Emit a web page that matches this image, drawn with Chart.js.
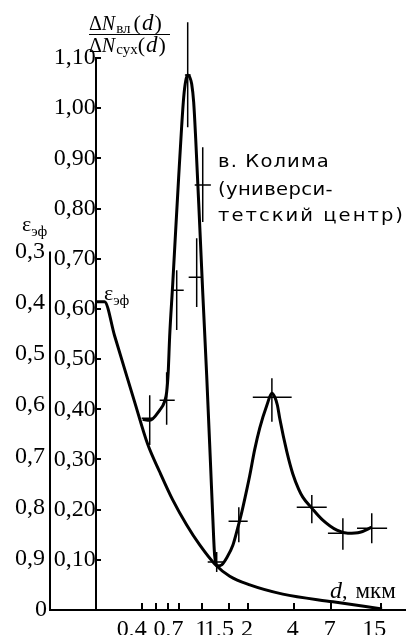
<!DOCTYPE html>
<html>
<head>
<meta charset="utf-8">
<script src="https://cdn.jsdelivr.net/npm/chart.js@4.4.1/dist/chart.umd.min.js"></script>
<style>
  html, body { margin: 0; padding: 0; background: #fff; }
  canvas { display: block; }
</style>
</head>
<body>
<canvas id="chart" width="408" height="635"></canvas>
<script>
(function () {
    'use strict';

    // ── Data ─────────────────────────────────────────────────────
    // x axis: particle size d, mkm (log scale)
    const X_TICKS      = [0.4, 0.5, 0.6, 0.7, 1, 1.5, 2, 4, 7, 15];
    const X_UNLABELLED = [0.5, 0.6];
    const DN_TICKS     = [0, 0.1, 0.2, 0.3, 0.4, 0.5, 0.6, 0.7, 0.8, 0.9, 1.0, 1.1];
    const EPS_TICKS    = [0.3, 0.4, 0.5, 0.6, 0.7, 0.8, 0.9];

    // ΔN_wet / ΔN_dry curve
    const DN_D = [0.406, 0.452, 0.525, 0.567, 0.584, 0.598, 0.611, 0.640, 0.669, 0.700, 0.733, 0.756,
                  0.779, 0.803, 0.828, 0.853, 0.879, 0.906, 0.963, 1.008, 1.070, 1.137, 1.172, 1.208,
                  1.265, 1.344, 1.45, 1.59, 1.71, 1.82, 1.96, 2.05, 2.21, 2.39, 2.66, 2.87, 3.0, 3.12,
                  3.23, 3.60, 3.94, 4.3, 4.58, 5.25, 6.2, 7.67, 9.06, 10.9, 13.0];
    const DN_V = [0.380, 0.378, 0.398, 0.416, 0.434, 0.474, 0.544, 0.649, 0.755, 0.861, 0.964, 1.022,
                  1.054, 1.066, 1.062, 1.048, 1.012, 0.940, 0.767, 0.633, 0.468, 0.283, 0.189, 0.108,
                  0.088, 0.090, 0.104, 0.129, 0.163, 0.195, 0.239, 0.267, 0.319, 0.363, 0.408, 0.432, 0.424, 0.408,
                  0.382, 0.315, 0.271, 0.241, 0.225, 0.203, 0.179, 0.159, 0.153, 0.155, 0.165];

    // ε_эф curve (left, inverted axis)
    const EPS_D = [0.2, 0.228, 0.266, 0.309, 0.360, 0.438, 0.525, 0.640, 0.791, 0.963, 1.208, 1.517,
                   2.054, 3.385, 7.22, 15.2];
    const EPS_V = [0.398, 0.398, 0.465, 0.529, 0.594, 0.676, 0.730, 0.785, 0.834, 0.873, 0.910, 0.934,
                   0.951, 0.969, 0.984, 0.998];

    // measured points with error crosses
    const PT_D   = [0.452, 0.584, 0.68, 0.803, 0.92, 1.008, 1.245, 1.74, 2.87, 5.25, 8.4, 13.0];
    const PT_DLO = [0.40, 0.525, 0.64, 0.77, 0.815, 0.893, 1.087, 1.49, 2.15, 4.18, 6.7, 10.4];
    const PT_DHI = [0.47, 0.66, 0.756, 0.84, 0.99, 1.14, 1.41, 1.99, 3.87, 6.58, 10.4, 16.4];
    const PT_V   = [0.382, 0.418, 0.637, 1.066, 0.663, 0.847, 0.0956, 0.177, 0.424, 0.205, 0.153, 0.163];
    const PT_VLO = [0.329, 0.369, 0.558, 0.962, 0.604, 0.773, 0.0757, 0.135, 0.375, 0.173, 0.12, 0.133];
    const PT_VHI = [0.428, 0.474, 0.677, 1.171, 0.741, 0.922, 0.1155, 0.205, 0.462, 0.229, 0.183, 0.193];

    // ── Style ────────────────────────────────────────────────────
    const SERIF  = "'Liberation Serif', 'Times New Roman', serif";
    const SANS   = "'DejaVu Sans', sans-serif";
    const INK    = '#000';

    const comma = v => String(v).replace('.', ',');

    // build line datasets from arrays
    const dnPoints  = DN_D.map((d, i) => ({ x: d, y: DN_V[i] }));
    const epsPoints = EPS_D.map((d, i) => ({ x: d, y: EPS_V[i] }));
    const hBars = [], vBars = [];
    PT_D.forEach((d, i) => {
        hBars.push({ x: PT_DLO[i], y: PT_V[i] }, { x: PT_DHI[i], y: PT_V[i] }, { x: PT_DHI[i], y: null });
        vBars.push({ x: d, y: PT_VLO[i] }, { x: d, y: PT_VHI[i] }, { x: d, y: null });
    });

    function zeroPad(s) {
        s.paddingTop = 0; s.paddingBottom = 0; s.paddingLeft = 0; s.paddingRight = 0;
    }

    // text runs with mixed fonts
    function runs(ctx, x, y, parts) {
        parts.forEach(p => {
            ctx.font = p.f;
            x += p.pre || 0;
            ctx.fillText(p.t, x, y + (p.dy || 0));
            x += ctx.measureText(p.t).width;
        });
        return x;
    }

    // a wide sans line, stretched to the given width
    function fitted(ctx, text, x, y, width, font) {
        ctx.save();
        ctx.font = font;
        ctx.letterSpacing = '0px';
        const w  = ctx.measureText(text).width;
        const sx = Math.min(1.15, width / w);
        ctx.translate(x, y);
        ctx.scale(sx, 1);
        ctx.letterSpacing = ((width / sx - w) / text.length).toFixed(2) + 'px';
        ctx.fillText(text, 0, 0);
        ctx.restore();
    }

    // ── Annotations: axis line for ε, labels, title ──────────────
    const annotations = {
        id: 'annotations',
        afterDraw(chart) {
            const { ctx, chartArea, scales } = chart;
            const yE = scales.yE;
            ctx.save();
            ctx.fillStyle = INK;
            ctx.strokeStyle = INK;

            // ε axis (only from 0,3 down)
            ctx.lineWidth = 2;
            ctx.beginPath();
            ctx.moveTo(chartArea.left, yE.getPixelForValue(0.3));
            ctx.lineTo(chartArea.left, chartArea.bottom);
            ctx.stroke();

            // origin label
            ctx.font = '24px ' + SERIF;
            ctx.textAlign = 'right';
            ctx.textBaseline = 'middle';
            ctx.fillText('0', chartArea.left - 3, chartArea.bottom);

            ctx.textAlign = 'left';
            ctx.textBaseline = 'alphabetic';

            // ε_эф labels
            runs(ctx, 22, 231, [
                { t: 'ε', f: '22px ' + SERIF },
                { t: 'эф', f: '15px ' + SERIF, dy: 5 }
            ]);
            runs(ctx, 104, 300, [
                { t: 'ε', f: '22px ' + SERIF },
                { t: 'эф', f: '15px ' + SERIF, dy: 5 }
            ]);

            // ΔN_вл(d) / ΔN_сух(d)
            runs(ctx, 89, 30, [
                { t: 'Δ', f: '20px ' + SERIF },
                { t: 'N', f: 'italic 20px ' + SERIF },
                { t: 'вл', f: '15px ' + SERIF, dy: 3, pre: 1 },
                { t: '(', f: '22px ' + SERIF, pre: 3 },
                { t: 'd', f: 'italic 23px ' + SERIF, pre: 1 },
                { t: ')', f: '22px ' + SERIF, pre: 1 }
            ]);
            ctx.lineWidth = 1;
            ctx.beginPath();
            ctx.moveTo(89, 34.5);
            ctx.lineTo(170, 34.5);
            ctx.stroke();
            runs(ctx, 89, 52, [
                { t: 'Δ', f: '20px ' + SERIF },
                { t: 'N', f: 'italic 20px ' + SERIF },
                { t: 'сух', f: '15px ' + SERIF, dy: 2, pre: 1 },
                { t: '(', f: '22px ' + SERIF },
                { t: 'd', f: 'italic 23px ' + SERIF, pre: 1 },
                { t: ')', f: '22px ' + SERIF, pre: 1 }
            ]);

            // station
            fitted(ctx, 'в. Колима', 218, 167, 112, '17px ' + SANS);
            fitted(ctx, '(универси-', 218, 195, 115, '17px ' + SANS);
            fitted(ctx, 'тетский центр)', 218, 221, 187, '17px ' + SANS);

            // x axis title
            runs(ctx, 330, 598, [
                { t: 'd', f: 'italic 24px ' + SERIF },
                { t: ',', f: '22px ' + SERIF },
                { t: 'мкм', f: '23px ' + SERIF, pre: 8 }
            ]);
            ctx.restore();
        }
    };

    // ── Chart ────────────────────────────────────────────────────
    const ctx = document.getElementById('chart');

    new Chart(ctx, {
        type: 'line',
        data: {
            datasets: [
                {
                    label: 'ΔNвл/ΔNсух',
                    data: dnPoints,
                    yAxisID: 'yN',
                    borderColor: INK,
                    borderWidth: 3,
                    pointRadius: 0,
                    cubicInterpolationMode: 'monotone'
                },
                {
                    label: 'εэф',
                    data: epsPoints,
                    yAxisID: 'yE',
                    borderColor: INK,
                    borderWidth: 3,
                    pointRadius: 0,
                    cubicInterpolationMode: 'monotone'
                },
                {
                    label: 'err x',
                    data: hBars,
                    yAxisID: 'yN',
                    borderColor: INK,
                    borderWidth: 1.5,
                    pointRadius: 0,
                    tension: 0,
                    clip: false
                },
                {
                    label: 'err y',
                    data: vBars,
                    yAxisID: 'yN',
                    borderColor: INK,
                    borderWidth: 1.5,
                    pointRadius: 0,
                    tension: 0,
                    clip: false
                }
            ]
        },
        options: {
            responsive: false,
            animation: false,
            layout: { padding: { top: 58, right: 3, left: 0, bottom: 0 } },
            plugins: {
                legend:  { display: false },
                tooltip: { enabled: false }
            },
            scales: {
                x: {
                    type: 'logarithmic',
                    position: 'bottom',
                    min: 0.1,
                    max: 21.5,
                    bounds: 'data',
                    afterBuildTicks: s => { s.ticks = X_TICKS.map(v => ({ value: v })); },
                    afterFit: s => { zeroPad(s); s.height = 25; },
                    grid:   { drawOnChartArea: false, tickLength: -7, color: INK, lineWidth: 2 },
                    border: { color: INK, width: 2 },
                    ticks: {
                        autoSkip: false,
                        maxRotation: 0,
                        align: 'end',
                        labelOffset: 5,
                        padding: 12,
                        color: INK,
                        font: { family: SERIF, size: 24 },
                        callback: v => X_UNLABELLED.includes(v) ? '' : comma(v)
                    }
                },
                yE: {
                    type: 'linear',
                    position: 'left',
                    reverse: true,
                    min: -0.078,
                    max: 1.0,
                    afterBuildTicks: s => { s.ticks = EPS_TICKS.map(v => ({ value: v })); },
                    afterFit: s => { zeroPad(s); s.width = 50; },
                    grid:   { display: false, drawTicks: false },
                    border: { display: false },
                    ticks: {
                        padding: 5,
                        color: INK,
                        font: { family: SERIF, size: 24 },
                        callback: v => v.toFixed(1).replace('.', ',')
                    }
                },
                yN: {
                    type: 'linear',
                    axis: 'y',
                    position: { x: 0.2 },
                    min: 0,
                    max: 1.1,
                    afterBuildTicks: s => { s.ticks = DN_TICKS.map(v => ({ value: v })); },
                    afterFit: zeroPad,
                    grid:   { drawOnChartArea: false, tickLength: -6, color: INK, lineWidth: 2 },
                    border: { color: INK, width: 2 },
                    ticks: {
                        padding: 2,
                        color: INK,
                        font: { family: SERIF, size: 24 },
                        callback: v => v === 0 ? '' : v.toFixed(2).replace('.', ',')
                    }
                }
            }
        },
        plugins: [annotations]
    });
})();
</script>
</body>
</html>
